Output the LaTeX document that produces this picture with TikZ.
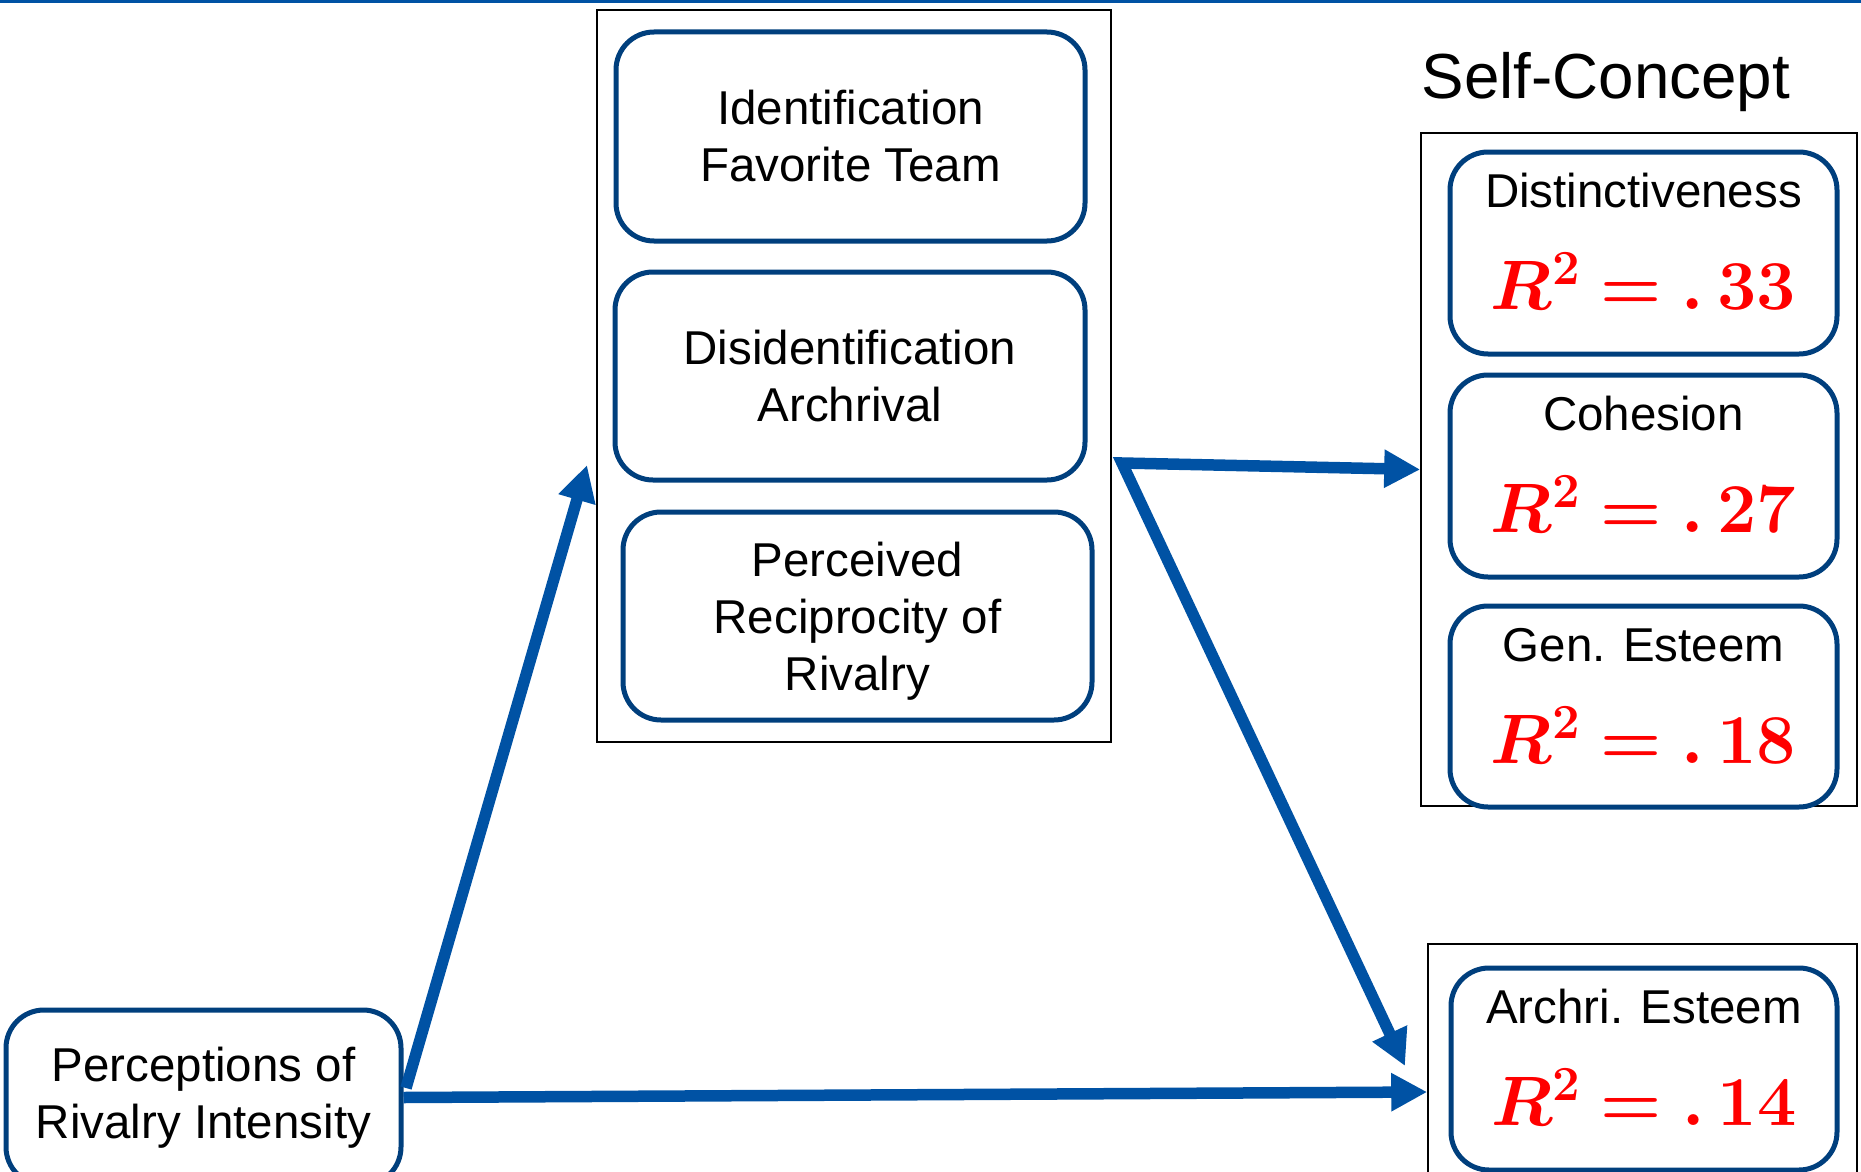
\RequirePackage{fix-cm}
\documentclass[tikz,border=0pt]{standalone}
\usepackage[no-math]{fontspec}
\setmainfont{Liberation Sans}
\usetikzlibrary{arrows.meta}
\definecolor{arrowblue}{RGB}{0,82,164}
\definecolor{boxblue}{RGB}{0,63,125}
\definecolor{rsqred}{RGB}{255,0,0}
\tikzset{
  rbox/.style={draw=boxblue, line width=5pt, rounded corners=38pt, fill=white,
    align=center, inner sep=0pt, font=\fontsize{47.5}{57}\selectfont},
  outerbox/.style={draw=black, line width=1.6pt, inner sep=0pt},
  lbl/.style={anchor=base, inner sep=0pt, font=\fontsize{47.5}{57}\selectfont},
  rsq/.style={anchor=base, inner sep=0pt, text=rsqred, font=\fontsize{70}{80}\selectfont\boldmath},
  arr/.style={draw=arrowblue, line width=11.5pt, -{Triangle[length=36pt,width=36pt]}},
  arrboth/.style={draw=arrowblue, line width=11.5pt, {Triangle[length=36pt,width=36pt]}-{Triangle[length=36pt,width=36pt]}}
}
\newcommand{\rsqval}[1]{$R^{2}\mkern-0.5mu=\mkern-0.5mu.\,#1$}
\begin{document}
\begin{tikzpicture}[x=1pt,y=-1pt]
\useasboundingbox (0,0) rectangle (1861,1172);
\clip (0,0) rectangle (1861,1172);
\fill[white] (0,0) rectangle (1861,1172);
\fill[arrowblue] (0,0) rectangle (1861,3);

% middle group
\node[outerbox, minimum width=514pt, minimum height=732pt] (mid) at (854,376) {};
\node[rbox, minimum width=469pt, minimum height=209pt] (b1) at (850.5,136.5) {Identification\\Favorite Team};
\node[rbox, minimum width=470pt, minimum height=208pt] (b2) at (850,376) {Disidentification\\Archrival};
\node[rbox, minimum width=469pt, minimum height=208pt, text depth=0pt] (b3) at (857.5,616) {Perceived\\Reciprocity of\\Rivalry};

% self-concept group
\node[anchor=base, inner sep=0pt, font=\fontsize{63.7}{70}\selectfont] (sctitle) at (1606,99) {Self-Concept};
\node[outerbox, minimum width=436pt, minimum height=673pt] (selfbox) at (1639,469.5) {};
\node[rbox, minimum width=387pt, minimum height=202pt] (dist) at (1643.5,253) {};
\node[lbl] (distl) at ([yshift=-58pt]dist.north) {Distinctiveness};
\node[rsq] (distr) at ([yshift=-160pt]dist.north) {\rsqval{33}};
\node[rbox, minimum width=387pt, minimum height=202pt] (coh) at (1643.5,476) {};
\node[lbl] (cohl) at ([yshift=-58pt]coh.north) {Cohesion};
\node[rsq] (cohr) at ([yshift=-160pt]coh.north) {\rsqval{27}};
\node[rbox, minimum width=387pt, minimum height=201pt] (gen) at (1643.5,706.5) {};
\node[lbl] (genl) at ([yshift=-58pt]gen.north) {Gen. Esteem};
\node[rsq] (genr) at ([yshift=-160pt]gen.north) {\rsqval{18}};

% archrival esteem
\node[outerbox, minimum width=429pt, minimum height=296pt] (archrect) at (1642.5,1092) {};
\node[rbox, minimum width=386pt, minimum height=202pt] (arch) at (1644,1069) {};
\node[lbl] (archl) at ([yshift=-58pt]arch.north) {Archri. Esteem};
\node[rsq] (archr) at ([yshift=-160pt]arch.north) {\rsqval{14}};

% predictor
\node[rbox, minimum width=395pt, minimum height=175pt] (perc) at (203.5,1097.5) {Perceptions of\\Rivalry Intensity};

% connectors
\coordinate (a1s) at (406,1088);
\coordinate (a1e) at (587,465);
\coordinate (junc) at (1122,463);
\coordinate (a4e) at (1405,1066);
\draw[arr] (a1s) -- (a1e);
\draw[arr] (perc.east) -- (archrect.west);
\draw[arrboth] (selfbox.west) -- (junc) -- (a4e);
\end{tikzpicture}
\end{document}
